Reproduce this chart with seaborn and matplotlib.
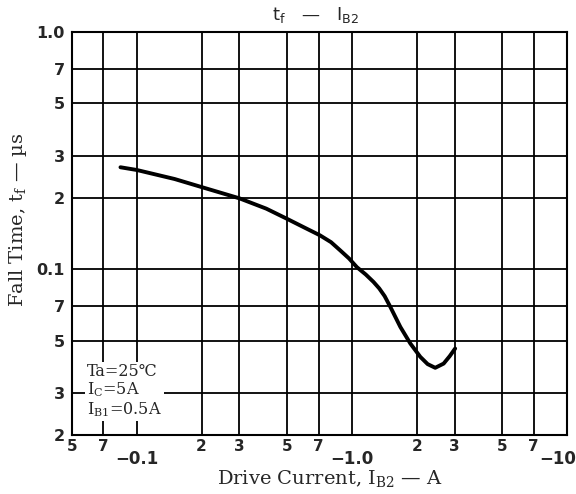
import matplotlib
matplotlib.use("Agg")
import matplotlib.pyplot as plt
import seaborn as sns
import pandas as pd
from matplotlib.ticker import FixedLocator, NullFormatter
import matplotlib.transforms as mtransforms

# Data (drive current magnitude in A, fall time in µs)
drive_current = [0.084, 0.1, 0.15, 0.2, 0.3, 0.4, 0.5, 0.6, 0.71, 0.80, 0.883, 0.97, 1.055, 1.16, 1.26, 1.34, 1.42, 1.51, 1.68, 1.87, 2.08, 2.25, 2.44, 2.67, 2.85, 3.02]
fall_time = [0.269, 0.262, 0.240, 0.222, 0.199, 0.180, 0.163, 0.150, 0.139, 0.130, 0.120, 0.111, 0.102, 0.095, 0.0884, 0.0830, 0.0770, 0.0693, 0.0571, 0.0486, 0.0427, 0.0398, 0.0384, 0.0400, 0.0430, 0.0463]

x_major = [0.1, 1.0, 10.0]
x_major_labels = ["\u22120.1", "\u22121.0", "\u221210"]
x_minor = [0.05, 0.07, 0.2, 0.3, 0.5, 0.7, 2, 3, 5, 7]
x_minor_labels = ["5", "7", "2", "3", "5", "7", "2", "3", "5", "7"]
y_ticks = [0.02, 0.03, 0.05, 0.07, 0.1, 0.2, 0.3, 0.5, 0.7, 1.0]
y_labels = ["2", "3", "5", "7", "0.1", "2", "3", "5", "7", "1.0"]

sns.set_style("white")
plt.rcParams["mathtext.fontset"] = "dejavuserif"

df = pd.DataFrame({"x": drive_current, "y": fall_time})

fig = plt.figure(figsize=(5.76, 4.94), dpi=100)
ax = fig.add_axes([72/576, 1 - 435/494, (567-72)/576, (435-32)/494])

ax.set_xscale("log")
ax.set_yscale("log")
ax.set_xlim(0.05, 10)
ax.set_ylim(0.02, 1.0)

# grid
for xv in x_minor + x_major:
    ax.axvline(xv, color="black", lw=1.3, zorder=1)
for yv in y_ticks:
    ax.axhline(yv, color="black", lw=1.3, zorder=1)

sns.lineplot(data=df, x="x", y="y", ax=ax, color="black", lw=2.8, zorder=3, sort=False)

for s in ax.spines.values():
    s.set_color("black")
    s.set_linewidth(1.5)

ax.xaxis.set_major_locator(FixedLocator(x_major))
ax.xaxis.set_minor_locator(FixedLocator(x_minor))
ax.set_xticklabels(x_major_labels)
ax.set_xticklabels(x_minor_labels, minor=True)
ax.tick_params(axis="x", which="minor", length=0, pad=3, labelsize=11)
ax.tick_params(axis="x", which="major", length=0, pad=11, labelsize=12)
for lbl in ax.get_xticklabels() + ax.get_xticklabels(minor=True):
    lbl.set_fontweight("bold")
    lbl.set_family("DejaVu Sans")

ax.yaxis.set_major_locator(FixedLocator(y_ticks))
ax.yaxis.set_minor_locator(FixedLocator([]))
ax.yaxis.set_minor_formatter(NullFormatter())
ax.set_yticklabels(y_labels)
ax.tick_params(axis="y", which="major", length=6, width=1.2, direction="inout", pad=2, labelsize=11.5)
for lbl in ax.get_yticklabels():
    lbl.set_fontweight("bold")
    lbl.set_family("DejaVu Sans")

# shift the -10 label left a bit so it stays inside the figure
lbls = ax.get_xticklabels()
lbls[-1].set_transform(lbls[-1].get_transform() + mtransforms.ScaledTranslation(-7/72, 0, fig.dpi_scale_trans))

ax.set_xlabel("")
ax.set_ylabel("")
fig.text(330/576, 1 - 478/494, "Drive Current, I$_{\\mathrm{B2}}$ \u2014 A", ha="center", va="center",
         family="DejaVu Serif", fontsize=14)
fig.text(18/576, 1 - 220/494, "Fall Time, t$_{\\mathrm{f}}$ \u2014 \u00b5s", ha="center", va="center",
         rotation=90, family="DejaVu Serif", fontsize=14)

fig.text(316/576, 1 - 15/494, "$\\mathregular{t_f}$   \u2014   $\\mathregular{I_{B2}}$",
         ha="center", va="center", family="DejaVu Sans", fontsize=13)

# condition box
ax.text(0.03, 0.04,
        "Ta=25\u2103\n" + "I$_{\\mathrm{C}}$=5A" + "\n" + "I$_{\\mathrm{B1}}$=0.5A",
        transform=ax.transAxes, ha="left", va="bottom", family=["DejaVu Serif", "DejaVu Sans"],
        fontsize=11.5, linespacing=1.05, zorder=4,
        bbox=dict(facecolor="white", edgecolor="none", pad=1.5))

fig.savefig("out.png", dpi=100, facecolor="white")
